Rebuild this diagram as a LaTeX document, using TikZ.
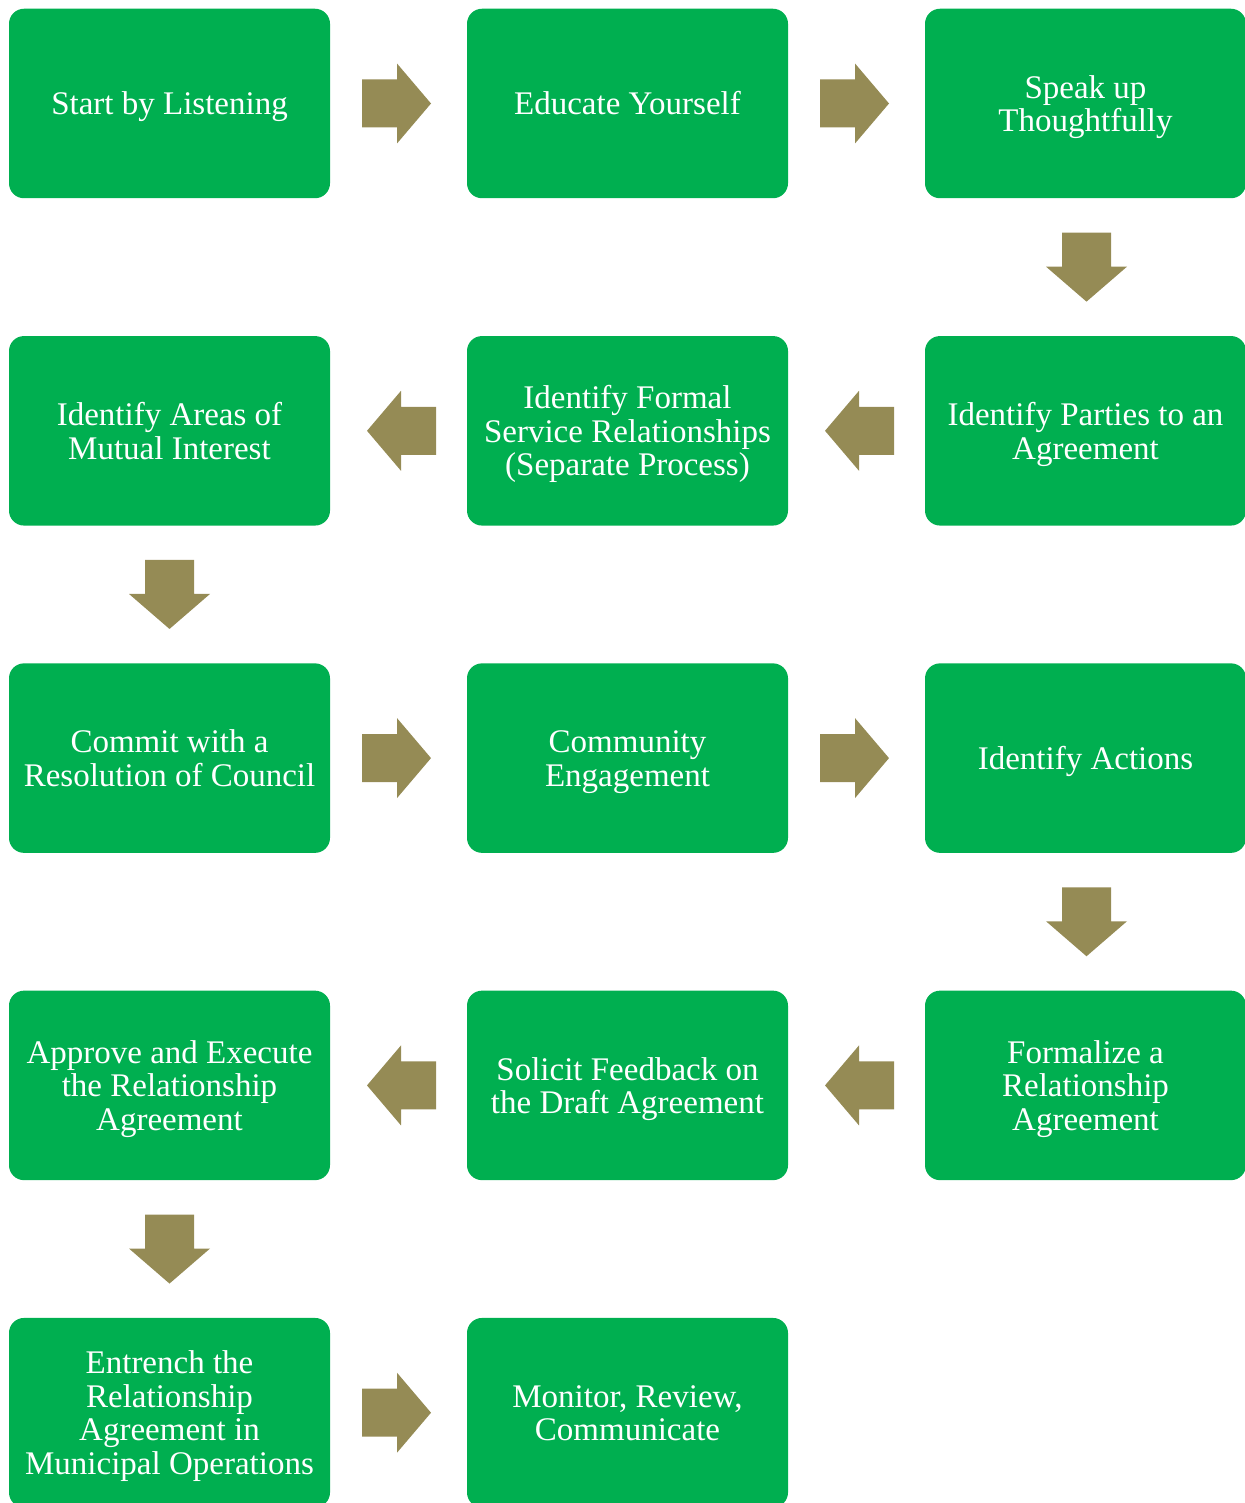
\documentclass[tikz,border=0pt]{standalone}
\usepackage{fontspec}
\setmainfont{Liberation Serif}
\usetikzlibrary{calc}
\definecolor{boxgreen}{HTML}{00AF50}
\definecolor{arrowolive}{HTML}{958B55}
\protected\def\boxstrut{\rule[-8pt]{0pt}{39pt}}
\protected\def\boxfont{\fontsize{33}{33.5}\selectfont\lineskiplimit=-100pt\relax}
\begin{document}
\begin{tikzpicture}[x=1pt,y=-1pt,
  stepbox/.style={fill=boxgreen, draw=none, rounded corners=15pt,
    minimum width=321pt, minimum height=189.5pt, inner sep=0pt,
    align=center, text=white, font=\boxfont},
  rarrow/.pic={\fill[arrowolive] (-34.5,-24) -- (0.5,-24) -- (0.5,-40) -- (34.5,0) -- (0.5,40) -- (0.5,24) -- (-34.5,24) -- cycle;},
  larrow/.pic={\fill[arrowolive] (34.5,-24) -- (-0.5,-24) -- (-0.5,-40) -- (-34.5,0) -- (-0.5,40) -- (-0.5,24) -- (34.5,24) -- cycle;},
  darrow/.pic={\fill[arrowolive] (-24.5,-34.5) -- (-24.5,-0.5) -- (-40.5,-0.5) -- (0,34.5) -- (40.5,-0.5) -- (24.5,-0.5) -- (24.5,-34.5) -- cycle;}
]
\useasboundingbox (0,0) rectangle (1244,1503);
% row 1
\node[stepbox] (n1) at (169.5,103.5) {\boxstrut Start by Listening\boxstrut};
\node[stepbox] (n2) at (627.5,103.5) {\boxstrut Educate Yourself\boxstrut};
\node[stepbox] (n3) at (1085.5,103.5) {\boxstrut Speak up\\Thoughtfully\boxstrut};
% row 2
\node[stepbox] (n4) at (1085.5,430.8) {\boxstrut Identify Parties to an\\Agreement\boxstrut};
\node[stepbox] (n5) at (627.5,430.8) {\boxstrut Identify Formal\\Service Relationships\\(Separate Process)\boxstrut};
\node[stepbox] (n6) at (169.5,430.8) {\boxstrut Identify Areas of\\Mutual Interest\boxstrut};
% row 3
\node[stepbox] (n7) at (169.5,758.1) {\boxstrut Commit with a\\Resolution of Council\boxstrut};
\node[stepbox] (n8) at (627.5,758.1) {\boxstrut Community\\Engagement\boxstrut};
\node[stepbox] (n9) at (1085.5,758.1) {\boxstrut Identify Actions\boxstrut};
% row 4
\node[stepbox] (n10) at (1085.5,1085.4) {\boxstrut Formalize a\\Relationship\\Agreement\boxstrut};
\node[stepbox] (n11) at (627.5,1085.4) {\boxstrut Solicit Feedback on\\the Draft Agreement\boxstrut};
\node[stepbox] (n12) at (169.5,1085.4) {\boxstrut Approve and Execute\\the Relationship\\Agreement\boxstrut};
% row 5
\node[stepbox] (n13) at (169.5,1412.7) {\boxstrut Entrench the\\Relationship\\Agreement in\\Municipal Operations\boxstrut};
\node[stepbox] (n14) at (627.5,1412.7) {\boxstrut Monitor, Review,\\Communicate\boxstrut};
% arrows
\pic at ($(n1.east)!0.5!(n2.west)+(-2,0)$) {rarrow};
\pic at ($(n2.east)!0.5!(n3.west)+(-2,0)$) {rarrow};
\pic at ($(n3.south)!0.5!(n4.north)+(1,0)$) {darrow};
\pic at ($(n4.west)!0.5!(n5.east)+(3,0)$) {larrow};
\pic at ($(n5.west)!0.5!(n6.east)+(3,0)$) {larrow};
\pic at ($(n6.south)!0.5!(n7.north)+(0,0)$) {darrow};
\pic at ($(n7.east)!0.5!(n8.west)+(-2,0)$) {rarrow};
\pic at ($(n8.east)!0.5!(n9.west)+(-2,0)$) {rarrow};
\pic at ($(n9.south)!0.5!(n10.north)+(1,0)$) {darrow};
\pic at ($(n10.west)!0.5!(n11.east)+(3,0)$) {larrow};
\pic at ($(n11.west)!0.5!(n12.east)+(3,0)$) {larrow};
\pic at ($(n12.south)!0.5!(n13.north)+(0,0)$) {darrow};
\pic at ($(n13.east)!0.5!(n14.west)+(-2,0)$) {rarrow};
\end{tikzpicture}
\end{document}
